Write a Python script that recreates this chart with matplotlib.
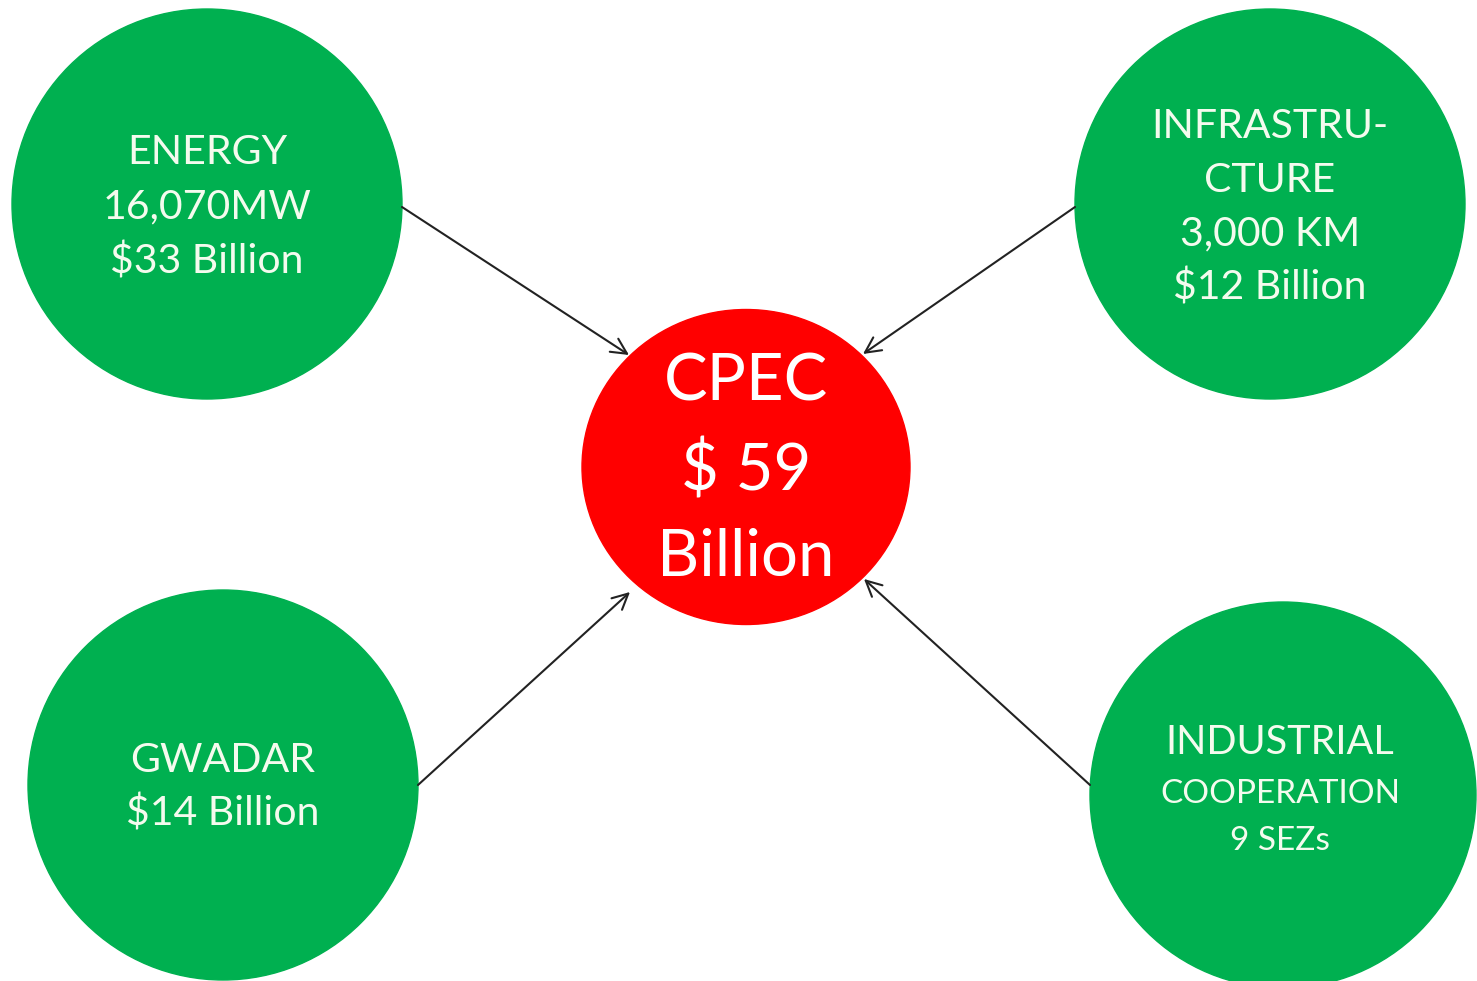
import matplotlib.pyplot as plt
from matplotlib.patches import Circle, Ellipse

plt.rcParams['font.family'] = ['Lato', 'DejaVu Sans']

# diagram content
hub_lines = ["CPEC", "$ 59", "Billion"]
node_names = ["energy", "infra", "gwadar", "industrial"]
node_lines = [
    ["ENERGY", "16,070MW", "$33 Billion"],
    ["INFRASTRU-", "CTURE", "3,000 KM", "$12 Billion"],
    ["GWADAR", "$14 Billion"],
    ["INDUSTRIAL", "COOPERATION", "9 SEZs"],
]

# layout in pixel units (y grows downwards)
W, H = 1477, 981
green = "#00b050"
red = "#ff0000"
txt = "#f4fbee"

node_center = [(207, 204), (1270, 204), (223, 785), (1283, 795)]
node_radius = [195, 195, 195, 193]
node_font = [[29.5, 29.5, 29.5], [29.5, 29.5, 29.5, 29.5], [29.5, 29.5], [28.5, 24, 24]]
node_line_y = [[153, 207, 261], [127, 180, 234, 288], [761, 814], [743, 794, 841]]
text_x_shift = [0, 0, 0, -3]
arrow_start = [(402, 207), (1075, 207), (418, 785), (1090, 785)]
arrow_end = [(629, 355), (863, 354), (630, 592), (864, 579)]

hub_center = (746, 467)
hub_font = 47
hub_line_y = [382, 470, 558]

fig = plt.figure(figsize=(W / 100, H / 100), dpi=100)
ax = fig.add_axes([0, 0, 1, 1])
ax.set_xlim(0, W)
ax.set_ylim(H, 0)
ax.axis("off")

for i, name in enumerate(node_names):
    cx, cy = node_center[i]
    ax.add_patch(Circle((cx, cy), node_radius[i], color=green, zorder=1))
    for line, fs, ly in zip(node_lines[i], node_font[i], node_line_y[i]):
        ax.text(cx + text_x_shift[i], ly, line, ha="center", va="center",
                fontsize=fs, color=txt, zorder=3)
    ax.annotate("", xy=arrow_end[i], xytext=arrow_start[i],
                arrowprops=dict(arrowstyle="->", color="#222222", lw=1.5,
                                mutation_scale=28, shrinkA=0, shrinkB=0),
                zorder=4)

ax.add_patch(Ellipse(hub_center, 328, 315, color=red, zorder=2))
for line, ly in zip(hub_lines, hub_line_y):
    ax.text(hub_center[0], ly, line, ha="center", va="center",
            fontsize=hub_font, color="white", zorder=3)

fig.savefig("out.png", dpi=100, facecolor="white")
